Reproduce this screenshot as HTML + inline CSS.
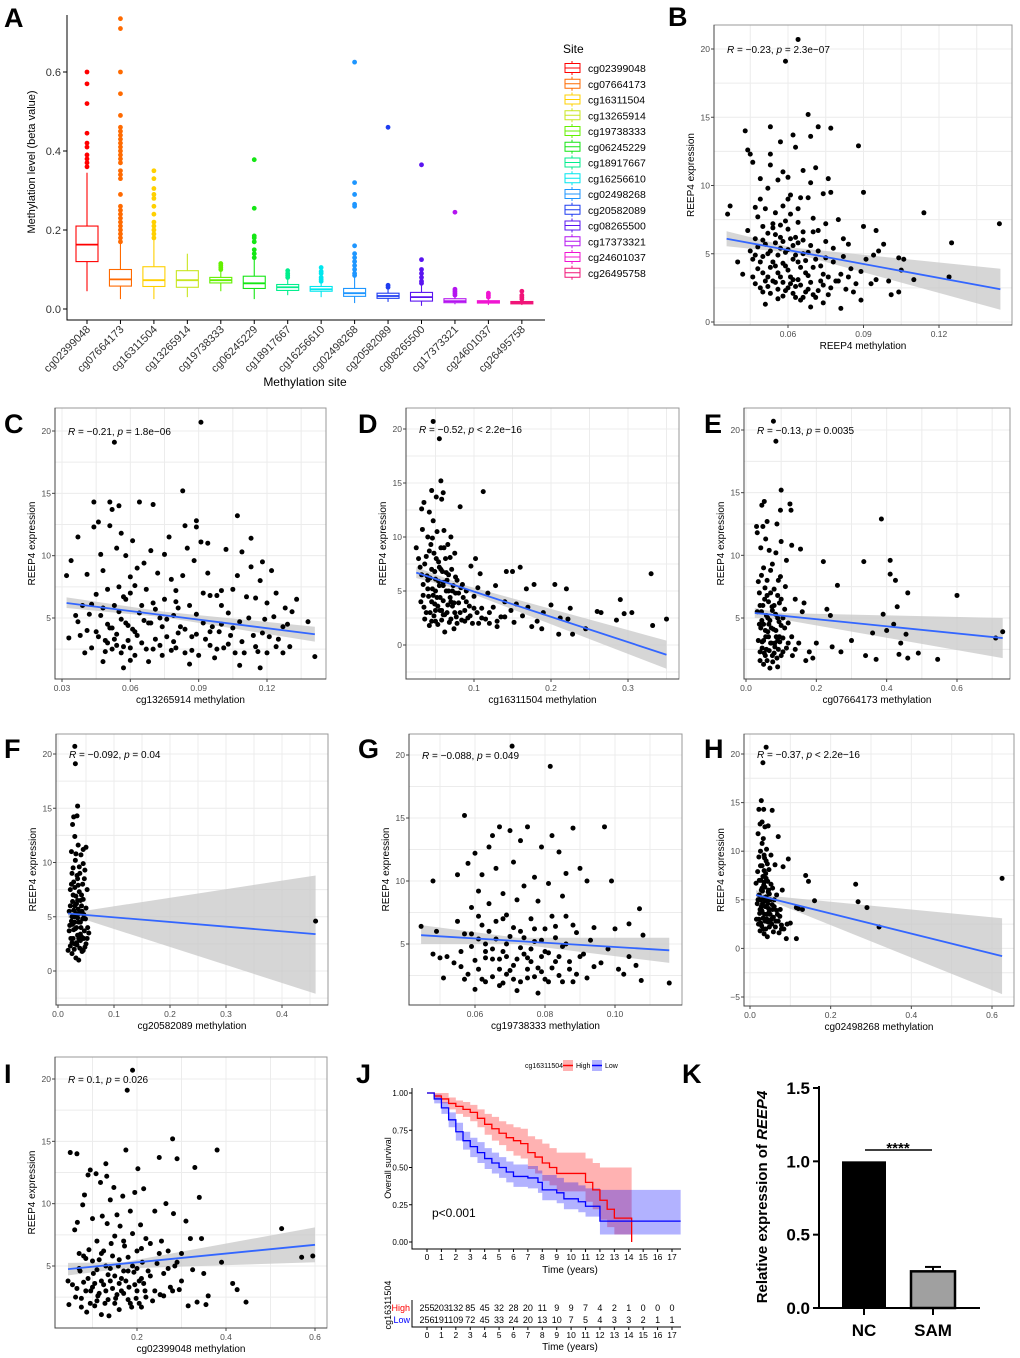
<!DOCTYPE html>
<html><head><meta charset="utf-8"><title>REEP4 methylation figure</title>
<style>
html,body{margin:0;padding:0;background:#fff;}
svg{display:block;font-family:"Liberation Sans",Arial,sans-serif;}
</style></head>
<body>
<svg id="fig" width="1020" height="1358" viewBox="0 0 1020 1358" xmlns="http://www.w3.org/2000/svg"></svg>
<script>
// ===== Panel A data =====
const siteNames=["cg02399048","cg07664173","cg16311504","cg13265914","cg19738333","cg06245229","cg18917667","cg16256610","cg02498268","cg20582089","cg08265500","cg17373321","cg24601037","cg26495758"];
const siteColors=["#FF0000","#FF6A00","#FFD000","#C8E620","#64F000","#14E614","#00EE8C","#00E6EE","#1E96FF","#1E3CF0","#5A14F0","#B414F0","#F014D2","#F01478"];
const boxMedian=[0.163,0.075,0.073,0.073,0.073,0.065,0.055,0.050,0.040,0.033,0.030,0.020,0.018,0.016];
const boxQ1=[0.120,0.058,0.057,0.055,0.066,0.052,0.047,0.045,0.032,0.027,0.020,0.016,0.015,0.013];
const boxQ3=[0.210,0.100,0.107,0.097,0.080,0.083,0.062,0.057,0.052,0.040,0.042,0.026,0.021,0.019];
const whiskLo=[0.045,0.025,0.025,0.030,0.045,0.025,0.035,0.030,0.015,0.018,0.008,0.012,0.010,0.010];
const whiskHi=[0.345,0.165,0.180,0.140,0.098,0.125,0.075,0.067,0.080,0.050,0.060,0.030,0.025,0.022];
const outliers=[
 [0.36,0.37,0.38,0.39,0.41,0.42,0.445,0.52,0.57,0.60],
 [0.17,0.18,0.19,0.20,0.21,0.22,0.23,0.24,0.25,0.26,0.29,0.33,0.34,0.35,0.37,0.38,0.39,0.40,0.41,0.42,0.43,0.44,0.45,0.46,0.49,0.545,0.60,0.71,0.735],
 [0.18,0.19,0.20,0.21,0.22,0.24,0.26,0.28,0.29,0.305,0.33,0.35],
 [],
 [0.10,0.105,0.11,0.115],
 [0.13,0.14,0.15,0.17,0.18,0.185,0.255,0.378],
 [0.08,0.085,0.09,0.097],
 [0.07,0.075,0.08,0.09,0.095,0.105],
 [0.085,0.09,0.10,0.11,0.12,0.13,0.14,0.16,0.26,0.265,0.29,0.32,0.625],
 [0.055,0.06,0.46],
 [0.065,0.07,0.08,0.09,0.10,0.125,0.365],
 [0.035,0.04,0.045,0.05,0.245],
 [0.03,0.035,0.04],
 [0.025,0.03,0.035,0.045]
];
// ===== Scatter data (x methylation, y expression), flat pairs =====
const scatB=[0.036,7.9,0.037,8.5,0.040,4.4,0.042,3.5,0.043,14.0,0.044,12.6,0.045,12.3,0.046,11.7,0.044,6.7,0.045,5.2,0.046,4.6,0.047,2.8,0.048,7.7,0.048,3.9,0.049,10.5,0.049,9.0,0.050,6.0,0.050,2.2,0.051,1.3,0.051,8.3,0.052,5.0,0.052,3.3,0.053,14.3,0.053,12.3,0.053,11.5,0.054,7.2,0.054,4.4,0.055,2.9,0.055,6.4,0.056,10.4,0.056,3.6,0.057,13.2,0.057,5.4,0.058,1.9,0.058,8.5,0.059,19.1,0.059,4.1,0.060,10.6,0.060,6.8,0.060,2.5,0.061,9.3,0.061,3.3,0.062,13.7,0.062,5.6,0.063,1.8,0.063,12.8,0.064,20.7,0.064,7.3,0.064,4.4,0.065,9.1,0.065,2.7,0.066,11.1,0.066,6.0,0.067,3.6,0.068,15.2,0.068,5.1,0.069,13.6,0.069,1.1,0.069,10.2,0.070,7.6,0.070,2.0,0.071,11.3,0.071,4.6,0.072,14.3,0.072,6.7,0.073,3.0,0.074,9.4,0.074,1.4,0.075,7.2,0.075,4.7,0.076,10.5,0.077,14.2,0.077,9.5,0.077,2.5,0.078,5.4,0.079,3.0,0.080,7.5,0.081,1.0,0.081,3.5,0.082,6.1,0.083,2.4,0.084,5.7,0.085,3.9,0.086,2.2,0.087,2.8,0.088,12.9,0.089,1.6,0.089,3.7,0.090,7.0,0.090,9.5,0.091,4.6,0.093,2.8,0.094,4.9,0.095,6.7,0.095,3.1,0.096,5.2,0.098,5.7,0.100,3.0,0.101,2.0,0.104,4.7,0.104,2.2,0.106,4.6,0.105,3.8,0.110,3.1,0.114,8.0,0.124,3.3,0.125,5.8,0.144,7.2,0.048,5.5,0.050,4.8,0.052,6.5,0.054,3.0,0.056,4.9,0.058,5.9,0.060,3.8,0.062,4.6,0.064,3.1,0.066,5.0,0.068,2.4,0.070,4.0,0.058,2.9,0.062,2.1,0.066,1.8,0.056,2.4,0.052,2.6,0.050,3.6,0.047,4.9,0.072,2.3,0.074,3.5,0.076,2.0,0.057,7.1,0.061,7.9,0.063,6.2,0.059,5.1,0.055,5.8,0.053,4.0].concat([0.046,3.3,0.047,6.1,0.049,2.5,0.049,4.4,0.051,5.7,0.051,3.0,0.053,2.1,0.053,5.2,0.054,6.9,0.055,4.1,0.056,1.7,0.057,3.3,0.057,6.2,0.058,4.3,0.059,2.3,0.059,7.4,0.060,5.3,0.061,2.8,0.061,6.1,0.062,3.1,0.063,4.9,0.063,2.6,0.064,5.8,0.065,4.0,0.065,1.6,0.066,6.6,0.067,2.2,0.067,4.5,0.068,3.4,0.069,5.6,0.069,2.9,0.070,6.6,0.071,1.8,0.072,5.2,0.073,4.1,0.074,2.7,0.075,5.9,0.076,3.3,0.078,4.4,0.080,3.0,0.082,4.8,0.084,3.3,0.050,7.0,0.055,8.0,0.060,9.0,0.052,9.8,0.058,11.0,0.064,8.3,0.068,9.1,0.047,8.4]);
const scatC=[0.032,8.4,0.033,3.4,0.034,9.6,0.036,5.2,0.037,11.5,0.037,4.7,0.038,3.6,0.039,6.0,0.040,2.2,0.041,8.5,0.042,5.3,0.043,2.6,0.044,14.3,0.044,12.3,0.045,6.9,0.045,3.9,0.046,12.7,0.047,10.1,0.047,5.2,0.048,1.5,0.048,8.8,0.049,3.2,0.050,7.3,0.050,4.5,0.051,14.3,0.051,12.4,0.052,13.7,0.052,2.5,0.053,19.1,0.053,6.0,0.054,10.6,0.054,3.7,0.055,14.0,0.055,7.5,0.056,11.8,0.056,4.9,0.057,1.0,0.057,2.7,0.058,10.0,0.058,6.5,0.059,3.2,0.060,8.3,0.061,11.2,0.061,4.1,0.062,7.6,0.062,2.0,0.063,9.0,0.064,14.3,0.064,5.4,0.065,3.0,0.066,9.4,0.067,7.3,0.068,1.5,0.069,10.4,0.069,4.6,0.070,14.1,0.070,6.2,0.071,3.3,0.072,8.6,0.073,5.0,0.074,2.0,0.075,10.1,0.075,6.5,0.076,3.5,0.077,11.5,0.078,8.1,0.078,2.4,0.079,5.2,0.080,7.2,0.081,3.8,0.082,4.3,0.083,15.2,0.083,8.4,0.084,12.4,0.084,2.2,0.085,10.6,0.086,6.0,0.086,1.3,0.087,3.5,0.088,9.6,0.089,12.8,0.089,12.3,0.089,5.3,0.090,2.0,0.091,20.7,0.091,11.1,0.092,7.0,0.093,3.3,0.094,8.6,0.094,11.0,0.095,6.8,0.095,2.8,0.096,4.3,0.097,1.8,0.098,6.8,0.099,3.9,0.100,7.2,0.101,2.6,0.102,10.5,0.103,5.4,0.104,3.6,0.105,7.3,0.106,2.2,0.107,13.2,0.107,8.4,0.108,1.2,0.108,4.7,0.109,10.3,0.110,2.2,0.111,6.7,0.113,11.4,0.113,9.1,0.114,3.6,0.115,6.6,0.116,2.3,0.117,8.0,0.117,1.0,0.118,9.5,0.119,4.9,0.120,2.2,0.121,3.5,0.122,8.8,0.123,5.1,0.124,7.0,0.125,3.3,0.127,2.2,0.128,5.8,0.129,4.5,0.130,2.7,0.131,5.5,0.133,6.5,0.138,4.7,0.141,1.9,0.050,3.0,0.052,4.2,0.054,2.8,0.058,4.6,0.060,2.6,0.062,3.9,0.066,4.8,0.070,2.5,0.074,4.3,0.080,2.6].concat([0.041,4.0,0.043,6.1,0.046,3.5,0.048,5.8,0.049,2.3,0.051,4.2,0.053,3.3,0.055,5.5,0.056,2.2,0.057,6.7,0.059,4.4,0.060,1.6,0.063,3.6,0.065,6.0,0.067,2.5,0.068,4.6,0.071,5.7,0.073,2.8,0.076,4.9,0.079,3.1,0.081,5.8,0.084,4.1,0.087,2.4,0.089,3.7,0.092,4.6,0.095,3.9,0.098,2.5,0.100,4.5,0.103,2.9,0.105,4.2,0.109,3.1,0.112,5.0,0.115,2.7,0.118,3.8,0.120,6.2,0.124,2.7,0.127,4.3,0.060,7.0,0.080,6.3,0.100,6.0]);
const scatD=[0.025,9.0,0.028,8.0,0.030,7.2,0.031,4.0,0.032,12.6,0.033,10.7,0.034,5.6,0.035,13.2,0.035,3.5,0.036,2.4,0.038,8.2,0.039,6.4,0.040,10.0,0.041,4.5,0.042,12.3,0.042,1.8,0.043,3.0,0.044,9.3,0.045,14.3,0.045,7.0,0.046,5.2,0.047,20.7,0.047,11.5,0.048,8.5,0.048,2.7,0.049,3.8,0.050,6.1,0.051,13.7,0.052,10.5,0.052,4.4,0.053,1.9,0.054,7.7,0.055,19.1,0.055,5.5,0.056,3.2,0.057,15.2,0.057,9.0,0.058,13.5,0.058,2.3,0.059,6.8,0.060,14.1,0.060,4.1,0.061,10.6,0.062,1.2,0.063,8.0,0.064,5.0,0.065,3.0,0.066,9.3,0.067,6.5,0.068,2.1,0.069,4.4,0.070,10.0,0.071,7.0,0.072,3.6,0.073,5.5,0.074,1.5,0.075,8.5,0.076,4.8,0.077,2.6,0.078,6.0,0.080,3.9,0.082,12.8,0.083,5.3,0.084,2.3,0.086,4.4,0.088,3.2,0.090,5.0,0.092,2.5,0.094,3.6,0.096,7.3,0.098,2.0,0.100,4.5,0.102,8.0,0.104,3.0,0.106,2.0,0.108,6.6,0.110,3.4,0.112,14.2,0.115,2.4,0.118,4.8,0.120,2.0,0.125,3.5,0.128,5.5,0.130,1.7,0.135,2.6,0.140,4.0,0.142,6.8,0.148,3.2,0.150,6.8,0.152,2.1,0.155,3.8,0.160,7.2,0.163,2.7,0.168,5.2,0.170,3.5,0.175,1.7,0.178,5.6,0.182,2.2,0.188,1.5,0.190,3.0,0.200,3.7,0.205,5.6,0.210,1.0,0.212,2.5,0.220,5.2,0.222,2.4,0.225,3.4,0.228,1.0,0.245,1.5,0.260,3.1,0.265,3.0,0.285,2.3,0.290,4.2,0.295,2.9,0.305,3.0,0.330,6.6,0.332,1.8,0.350,2.4,0.040,6.0,0.045,4.0,0.050,3.2,0.055,7.2,0.060,2.8,0.065,6.0,0.070,4.0,0.075,3.0,0.050,5.0,0.060,5.8].concat([0.032,6.5,0.034,4.6,0.036,7.5,0.038,3.0,0.040,5.2,0.042,8.7,0.043,6.2,0.045,2.2,0.046,9.9,0.047,4.6,0.049,6.8,0.050,2.2,0.051,8.0,0.053,3.6,0.054,5.9,0.056,4.4,0.057,7.0,0.058,3.2,0.060,5.5,0.061,9.0,0.062,2.8,0.064,6.7,0.066,3.7,0.067,5.0,0.069,8.1,0.070,2.4,0.072,5.0,0.074,3.9,0.076,6.3,0.078,2.0,0.080,4.8,0.082,3.0,0.085,5.6,0.088,2.2,0.090,4.0,0.095,2.7,0.100,3.4,0.105,5.3,0.110,2.5,0.120,3.0,0.130,2.2,0.140,2.6]);
const scatE=[0.030,12.3,0.032,11.8,0.035,7.9,0.038,4.5,0.040,2.3,0.042,10.6,0.044,5.5,0.045,14.0,0.046,3.1,0.048,12.3,0.050,9.0,0.050,1.3,0.052,14.3,0.053,6.5,0.055,4.0,0.056,11.3,0.058,2.5,0.060,12.7,0.060,8.0,0.062,5.0,0.064,3.5,0.066,10.4,0.068,1.0,0.070,7.0,0.072,4.2,0.075,9.3,0.075,2.0,0.078,20.7,0.080,6.0,0.082,3.0,0.085,19.1,0.085,10.2,0.088,12.5,0.090,1.1,0.090,5.0,0.092,8.0,0.095,3.5,0.098,13.6,0.100,15.2,0.100,11.1,0.100,6.5,0.105,2.3,0.110,4.2,0.112,7.5,0.115,9.6,0.120,3.0,0.125,14.1,0.128,13.6,0.130,10.8,0.132,2.0,0.140,6.5,0.150,3.0,0.155,10.5,0.160,5.5,0.165,6.2,0.170,1.6,0.180,2.3,0.190,1.8,0.200,3.0,0.220,9.5,0.230,5.7,0.240,5.2,0.245,2.7,0.260,7.6,0.270,2.3,0.300,3.2,0.335,9.5,0.340,2.0,0.360,3.8,0.370,1.7,0.385,12.9,0.390,5.3,0.400,4.0,0.410,9.6,0.410,8.5,0.420,4.5,0.425,8.0,0.430,5.9,0.435,2.1,0.440,3.0,0.455,3.7,0.460,7.0,0.460,1.8,0.490,2.2,0.545,1.7,0.600,6.8,0.710,3.4,0.730,3.9,0.040,6.0,0.045,4.8,0.050,3.2,0.055,2.0,0.060,6.8,0.065,4.5,0.070,3.0,0.075,5.6,0.080,2.2,0.085,4.0,0.090,3.2,0.095,6.2,0.100,4.4,0.105,5.0].concat([0.032,5.5,0.035,3.2,0.038,7.0,0.040,1.6,0.042,4.2,0.044,8.4,0.046,2.6,0.048,6.0,0.050,4.5,0.052,2.2,0.054,7.4,0.056,3.5,0.058,5.2,0.060,1.6,0.062,3.9,0.064,6.3,0.066,2.4,0.068,4.8,0.070,8.8,0.072,3.0,0.074,5.9,0.076,1.5,0.078,4.1,0.080,7.3,0.082,2.7,0.084,5.3,0.086,3.5,0.088,1.8,0.090,6.8,0.092,2.5,0.094,4.7,0.096,3.1,0.098,8.3,0.100,2.0,0.105,3.4,0.110,5.7,0.115,2.6,0.120,4.6,0.130,3.5,0.140,2.5]);
const scatF=[0.018,1.9,0.020,5.5,0.020,3.7,0.022,7.5,0.022,2.3,0.024,11.0,0.024,4.6,0.025,9.0,0.025,1.6,0.026,13.5,0.026,6.4,0.027,3.0,0.028,14.2,0.028,8.2,0.029,5.0,0.030,20.7,0.030,12.4,0.030,2.5,0.031,19.1,0.031,10.2,0.032,6.9,0.032,1.2,0.033,4.0,0.034,14.3,0.034,8.8,0.035,15.2,0.035,3.3,0.036,11.6,0.036,5.7,0.037,1.0,0.038,9.6,0.038,7.3,0.039,2.1,0.040,4.5,0.041,10.7,0.042,6.0,0.043,3.1,0.044,8.0,0.045,11.2,0.045,1.9,0.046,5.2,0.047,3.7,0.048,9.3,0.049,4.8,0.050,11.4,0.050,2.5,0.052,7.5,0.053,4.0,0.055,3.5,0.460,4.6,0.025,5.0,0.028,3.8,0.030,6.0,0.033,2.6,0.035,8.5,0.037,4.5,0.040,6.5,0.027,7.0,0.032,5.3,0.043,5.5].concat([0.021,4.2,0.022,6.0,0.023,3.0,0.024,8.0,0.025,2.6,0.026,4.3,0.027,9.5,0.028,5.6,0.029,2.0,0.030,7.7,0.031,3.9,0.032,10.8,0.033,6.2,0.034,2.4,0.035,4.9,0.036,7.9,0.037,3.0,0.038,5.3,0.039,9.0,0.040,2.8,0.041,4.0,0.042,7.0,0.043,1.8,0.044,4.8,0.045,6.6,0.046,3.0,0.047,8.5,0.048,2.2,0.050,5.8,0.052,3.0,0.030,4.5,0.035,6.5,0.040,3.4,0.045,9.9]);
const scatG=[0.0446,6.4,0.048,10.0,0.048,4.2,0.049,6.0,0.050,3.9,0.051,2.3,0.052,4.0,0.054,3.5,0.055,10.5,0.055,6.8,0.056,3.2,0.057,15.2,0.057,5.8,0.057,2.2,0.058,11.4,0.059,7.9,0.059,4.8,0.060,12.2,0.060,1.4,0.061,9.2,0.061,3.0,0.062,6.5,0.062,10.5,0.063,2.0,0.063,5.0,0.064,12.7,0.064,8.2,0.065,13.6,0.065,3.8,0.066,11.0,0.066,6.8,0.067,1.7,0.067,14.3,0.068,9.0,0.068,4.4,0.069,7.3,0.069,2.6,0.070,14.0,0.070,5.6,0.0706,20.7,0.071,11.5,0.071,3.3,0.072,8.5,0.072,1.3,0.073,6.0,0.073,13.2,0.074,4.2,0.074,9.6,0.075,2.3,0.075,14.3,0.076,7.0,0.076,3.6,0.077,10.3,0.077,5.2,0.078,1.1,0.078,8.4,0.079,12.7,0.0815,19.1,0.079,2.8,0.080,6.2,0.080,4.4,0.081,9.8,0.081,2.0,0.082,13.6,0.082,7.2,0.083,3.6,0.083,5.5,0.084,12.3,0.084,2.5,0.085,8.8,0.085,4.8,0.086,10.6,0.086,7.2,0.087,3.0,0.088,2.0,0.088,14.2,0.089,5.9,0.090,11.0,0.090,4.0,0.092,10.0,0.092,2.3,0.094,6.3,0.094,3.2,0.097,14.3,0.099,10.0,0.100,6.2,0.104,6.6,0.1025,2.6,0.107,7.8,0.108,5.7,0.106,3.3,0.1075,2.1,0.1155,1.9,0.065,4.6,0.067,3.0,0.069,5.0,0.071,2.2,0.073,4.7,0.075,3.9,0.077,2.4,0.079,4.0,0.063,3.9,0.061,5.4].concat([0.056,4.4,0.058,2.6,0.059,5.8,0.060,3.7,0.061,7.2,0.062,2.2,0.063,4.4,0.064,6.0,0.065,2.4,0.066,5.4,0.067,3.8,0.068,7.0,0.068,1.9,0.069,4.0,0.070,2.9,0.071,6.3,0.072,3.8,0.073,2.0,0.074,5.5,0.075,3.0,0.076,4.6,0.077,6.2,0.078,3.1,0.079,5.3,0.080,2.2,0.081,4.3,0.082,3.1,0.083,6.4,0.084,4.0,0.085,2.0,0.086,5.0,0.087,3.6,0.088,6.5,0.089,2.6,0.091,4.2,0.093,5.3,0.096,3.5,0.098,4.6,0.101,3.0,0.104,4.0]);
const scatH=[0.015,6.7,0.016,3.0,0.018,4.6,0.019,7.9,0.020,11.8,0.021,2.5,0.022,14.3,0.022,9.4,0.023,5.5,0.024,3.6,0.025,12.8,0.025,1.8,0.026,10.0,0.027,7.0,0.028,15.2,0.028,4.3,0.029,2.3,0.030,13.0,0.030,8.5,0.031,5.9,0.032,19.1,0.032,3.1,0.033,11.3,0.034,14.3,0.034,6.5,0.035,1.5,0.036,9.3,0.036,4.9,0.037,12.5,0.038,2.8,0.039,7.7,0.040,20.7,0.040,5.3,0.041,10.2,0.042,3.5,0.043,1.2,0.044,6.9,0.045,12.6,0.046,4.1,0.047,8.1,0.048,2.2,0.050,5.0,0.052,9.6,0.053,3.0,0.055,14.2,0.056,6.2,0.058,1.7,0.060,4.3,0.062,8.6,0.064,2.8,0.066,5.5,0.068,3.5,0.070,11.5,0.072,1.6,0.075,4.0,0.078,2.4,0.080,6.0,0.082,8.4,0.084,2.0,0.090,1.0,0.092,2.5,0.095,9.2,0.100,2.6,0.115,1.0,0.115,4.2,0.120,4.1,0.130,4.0,0.138,7.5,0.145,6.9,0.160,4.9,0.262,6.6,0.268,4.8,0.290,4.2,0.320,2.2,0.625,7.2,0.025,5.0,0.030,3.8,0.035,6.8,0.040,3.0,0.045,5.8,0.050,2.8,0.055,4.5,0.035,8.0,0.040,9.0,0.030,6.2].concat([0.020,5.0,0.022,3.0,0.023,7.0,0.025,4.0,0.026,8.5,0.027,2.6,0.028,6.0,0.029,3.9,0.030,10.8,0.031,4.6,0.032,7.4,0.033,2.0,0.034,5.2,0.035,9.6,0.036,3.5,0.037,6.3,0.038,4.3,0.039,2.0,0.040,7.2,0.041,5.0,0.042,3.0,0.043,8.7,0.044,4.6,0.045,2.7,0.046,6.0,0.047,3.7,0.048,5.6,0.050,3.5,0.052,6.6,0.054,2.5,0.056,4.0,0.058,3.2,0.060,5.0,0.063,2.2,0.066,3.9,0.070,2.8,0.074,3.3,0.078,2.0]);
const scatI=[0.045,3.8,0.047,1.9,0.050,14.1,0.055,3.5,0.060,7.9,0.062,2.5,0.065,14.0,0.066,8.5,0.070,6.0,0.072,4.6,0.075,1.7,0.078,9.9,0.080,3.7,0.082,10.7,0.085,5.6,0.087,1.3,0.090,12.3,0.092,6.3,0.095,12.7,0.096,3.0,0.100,8.8,0.102,4.4,0.105,1.8,0.108,12.4,0.110,7.0,0.112,2.6,0.115,5.5,0.118,11.7,0.120,1.1,0.120,3.8,0.122,9.0,0.125,6.2,0.128,2.0,0.130,13.2,0.132,12.2,0.133,8.4,0.135,4.3,0.137,1.0,0.140,10.3,0.142,6.8,0.145,3.2,0.148,11.3,0.150,7.4,0.152,2.4,0.155,9.1,0.158,5.0,0.160,1.5,0.162,8.2,0.165,4.0,0.168,10.6,0.170,2.8,0.172,6.6,0.175,14.3,0.178,19.1,0.180,5.7,0.182,3.3,0.185,9.4,0.188,1.7,0.190,20.7,0.190,7.6,0.193,4.5,0.195,10.9,0.198,2.4,0.200,6.2,0.202,12.8,0.205,3.8,0.208,8.3,0.210,1.7,0.212,5.3,0.215,11.2,0.218,3.0,0.220,7.2,0.225,4.6,0.230,6.8,0.235,2.2,0.240,9.4,0.245,5.2,0.250,13.7,0.252,2.7,0.255,7.0,0.260,4.4,0.265,10.0,0.270,6.2,0.275,3.3,0.280,15.2,0.282,9.2,0.285,5.0,0.290,13.6,0.295,3.1,0.300,6.0,0.310,8.6,0.315,1.8,0.320,7.2,0.325,4.7,0.330,12.9,0.335,2.1,0.340,10.5,0.345,7.2,0.350,4.4,0.355,1.9,0.360,2.6,0.380,14.3,0.390,5.3,0.415,3.6,0.425,3.1,0.445,2.1,0.525,8.0,0.570,5.7,0.595,5.8,0.100,3.3,0.110,2.2,0.130,3.0,0.140,4.8,0.150,2.0,0.160,3.6,0.170,4.6,0.180,2.3,0.200,3.0,0.210,4.0].concat([0.065,3.2,0.070,4.8,0.075,2.4,0.080,5.8,0.085,3.0,0.090,4.0,0.095,2.0,0.100,5.4,0.105,3.6,0.110,4.7,0.115,2.8,0.120,6.0,0.125,3.5,0.130,5.0,0.135,2.3,0.140,3.8,0.145,5.8,0.150,4.2,0.155,2.7,0.160,5.5,0.165,3.0,0.170,7.0,0.175,3.8,0.180,4.6,0.185,2.0,0.190,5.0,0.195,3.5,0.200,4.8,0.205,2.0,0.210,6.4,0.215,3.6,0.220,2.5,0.230,4.2,0.240,3.0,0.250,6.0,0.260,2.6,0.270,4.8,0.280,3.0,0.290,5.3,0.300,3.8]);
// regression fits: [xStart, yStart, xEnd, yEnd]; CI bands: [loStart, hiStart, xMid, loMid, hiMid, loEnd, hiEnd]
const fitB=[0.0356,6.1,0.1444,2.4]; const ciB=[5.55,6.65,0.062,5.05,5.45,0.9,3.9];
const fitC=[0.032,6.2,0.141,3.7]; const ciC=[5.8,6.65,0.075,5.05,5.5,3.1,4.3];
const fitD=[0.025,6.7,0.350,-0.9]; const ciD=[6.2,7.2,0.09,4.95,5.5,-2.2,0.4];
const fitE=[0.025,5.4,0.730,3.4]; const ciE=[5.0,5.8,0.1,4.9,5.4,1.8,5.0];
const fitF=[0.018,5.3,0.460,3.4]; const ciF=[4.9,5.6,0.035,4.95,5.45,-2.1,8.8];
const fitG=[0.0446,5.7,0.1155,4.5]; const ciG=[5.0,6.5,0.072,5.0,5.5,3.5,5.5];
const fitH=[0.015,5.5,0.625,-0.8]; const ciH=[5.0,6.0,0.05,4.9,5.4,-4.7,3.1];
const fitI=[0.045,4.75,0.600,6.7]; const ciI=[4.25,5.25,0.17,4.8,5.3,5.3,8.1];
// ===== Panel J (KM) data =====
const kmTimesHigh=[0,0.5,1,1.5,2,2.5,3,3.5,4,4.5,5,5.5,6,6.5,7,7.5,8,8.5,9,10,11,11.5,12,12.5,13,14.2];
const kmSurvHigh=[1.0,0.98,0.96,0.93,0.91,0.89,0.87,0.83,0.79,0.76,0.73,0.70,0.68,0.66,0.60,0.57,0.53,0.50,0.46,0.46,0.40,0.35,0.28,0.22,0.16,0.0];
const kmHiHigh=[1,1,1,0.97,0.95,0.94,0.92,0.89,0.86,0.84,0.81,0.79,0.77,0.76,0.71,0.69,0.66,0.63,0.60,0.60,0.56,0.53,0.50,0.50,0.50,0.50];
const kmLoHigh=[1,0.96,0.93,0.89,0.86,0.84,0.81,0.77,0.72,0.68,0.65,0.61,0.58,0.56,0.49,0.46,0.41,0.38,0.34,0.34,0.27,0.22,0.15,0.10,0.05,0.05];
const kmTimesLow=[0,0.5,1,1.5,2,2.5,3,3.5,4,4.5,5,5.5,6,7,7.7,8,9,9.5,10.5,11,12,17.6];
const kmSurvLow=[1.0,0.96,0.90,0.82,0.74,0.68,0.64,0.60,0.56,0.53,0.50,0.47,0.44,0.43,0.40,0.35,0.33,0.29,0.27,0.24,0.14,0.14];
const kmHiLow=[1,0.99,0.94,0.87,0.80,0.74,0.70,0.67,0.63,0.60,0.57,0.54,0.52,0.51,0.48,0.45,0.43,0.40,0.38,0.36,0.35,0.35];
const kmLoLow=[1,0.93,0.86,0.77,0.68,0.62,0.57,0.53,0.49,0.46,0.43,0.40,0.37,0.36,0.33,0.28,0.26,0.22,0.20,0.17,0.05,0.05];
const riskHigh=[255,203,132,85,45,32,28,20,11,9,9,7,4,2,1,0,0,0];
const riskLow=[256,191,109,72,45,33,24,20,13,10,7,5,4,3,3,2,1,1];
const kmTicks=[0,1,2,3,4,5,6,7,8,9,10,11,12,13,14,15,16,17];
const kmYTicks=[0,0.25,0.5,0.75,1.0];
const kmYLabels=["0.00","0.25","0.50","0.75","1.00"];
// ===== Panel K data =====
const barCats=["NC","SAM"];
const barValues=[1.0,0.25];
const barErr=[0,0.03];
const barTicks=[0,0.5,1.0,1.5];
const barTickLabels=["0.0","0.5","1.0","1.5"];

// ===== helpers =====
const NS='http://www.w3.org/2000/svg';
const svg=document.getElementById('fig');
function mk(tag,attrs,parent){const e=document.createElementNS(NS,tag);for(const k in attrs)e.setAttribute(k,attrs[k]);(parent||svg).appendChild(e);return e;}
function label(el,name){
 
 
 return el;}
function lin(d0,d1,r0,r1){return v=>r0+(v-d0)*(r1-r0)/(d1-d0);}
function txt(x,y,s,attrs,parent){const t=mk('text',Object.assign({x:x,y:y},attrs||{}),parent);t.textContent=s;return t;}

// panel letters
const letters=[["A",4,27],["B",668,26],["C",4,433],["D",358,433],["E",704,433],["F",4,758],["G",358,758],["H",704,758],["I",4,1083],["J",356,1083],["K",682,1083]];
letters.forEach(l=>{const t=txt(l[1],l[2],l[0],{'font-size':27,'font-weight':'bold',fill:'#000'});
 
 });

// ===== Panel A =====
(function(){
 const g=mk('g',{}); label(g,'panel-a-boxplot');
 const yA=lin(0,0.6,309,72);
 const xA=i=>87+i*33.45;
 const ax=mk('path',{d:'M67,15 V320 H545',fill:'none',stroke:'#000','stroke-width':1},g); label(ax,'panel-a-axes');
 [0,0.2,0.4,0.6].forEach(v=>{
  mk('line',{x1:63,x2:67,y1:yA(v),y2:yA(v),stroke:'#000'},g);
  const t=txt(61,yA(v)+4,v.toFixed(1),{'text-anchor':'end','font-size':11,fill:'#333'},g);
  
  
 });
 const yt=txt(0,0,'Methylation level (beta value)',{'font-size':11,fill:'#000','text-anchor':'middle',transform:'translate(35,162) rotate(-90)'},g);
 
 
 const xt=txt(305,386,'Methylation site',{'font-size':12,fill:'#000','text-anchor':'middle'},g);
 
 
 siteNames.forEach((n,i)=>{
  const x=xA(i),c=siteColors[i];
  mk('line',{x1:x,x2:x,y1:320,y2:324,stroke:'#000'},g);
  const lt=txt(0,0,n,{'font-size':11,fill:'#333','text-anchor':'end',transform:'translate('+(x+4)+',330) rotate(-45)'},g);
  
  
  const bg=mk('g',{},g);
  
  
  mk('line',{x1:x,x2:x,y1:yA(whiskLo[i]),y2:yA(boxQ1[i]),stroke:c,'stroke-width':1.1},bg);
  mk('line',{x1:x,x2:x,y1:yA(boxQ3[i]),y2:yA(whiskHi[i]),stroke:c,'stroke-width':1.1},bg);
  mk('rect',{x:x-11,y:yA(boxQ3[i]),width:22,height:Math.max(1,yA(boxQ1[i])-yA(boxQ3[i])),fill:'#fff',stroke:c,'stroke-width':1.1},bg);
  mk('line',{x1:x-11,x2:x+11,y1:yA(boxMedian[i]),y2:yA(boxMedian[i]),stroke:c,'stroke-width':1.8},bg);
  outliers[i].forEach(v=>{const o=mk('circle',{cx:x,cy:yA(v),r:2.4,fill:c},bg);
   
   });
 });
 const lg=mk('g',{},g);
 
 
 txt(563,53,'Site',{'font-size':12,fill:'#000'},lg);
 siteNames.forEach((n,i)=>{
  const y=68+i*15.75,c=siteColors[i];
  const e=mk('g',{},lg);
  
  
  mk('line',{x1:572,x2:572,y1:y-7,y2:y+7,stroke:c,'stroke-width':1},e);
  mk('rect',{x:565,y:y-4.5,width:15,height:9,fill:'#fff',stroke:c,'stroke-width':1},e);
  mk('line',{x1:565,x2:580,y1:y,y2:y,stroke:c,'stroke-width':1},e);
  txt(588,y+4,n,{'font-size':10.5,fill:'#000'},e);
 });
})();

// ===== scatter panels =====
function scatter(cfg){
 const g=mk('g',{}); label(g,cfg.name);
 const [L,T,R,B]=cfg.frame;
 const xs=lin(cfg.xa[0],cfg.xa[2],cfg.xa[1],cfg.xa[3]);
 const ys=lin(cfg.ya[0],cfg.ya[2],cfg.ya[1],cfg.ya[3]);
 mk('rect',{x:L,y:T,width:R-L,height:B-T,fill:'#fff'},g);
 const cp='clip-'+cfg.name; const cpe=mk('clipPath',{id:cp},g); mk('rect',{x:L,y:T,width:R-L,height:B-T},cpe);
 const xt=cfg.xticks, yt=cfg.yticks;
 const dx=xt[1]-xt[0], dy=yt[1]-yt[0];
 for(let v=xt[0]-dx;v<=xt[xt.length-1]+dx*1.01;v+=dx/2){const px=xs(v);if(px>L&&px<R)mk('line',{x1:px,x2:px,y1:T,y2:B,stroke:'#ececec','stroke-width':1},g);}
 for(let v=yt[0]-dy;v<=yt[yt.length-1]+dy*1.01;v+=dy/2){const py=ys(v);if(py>T&&py<B)mk('line',{x1:L,x2:R,y1:py,y2:py,stroke:'#ececec','stroke-width':1},g);}
 const f=cfg.fit,ci=cfg.ci;
 const band=mk('polygon',{points:[[f[0],ci[1]],[ci[2],ci[4]],[f[2],ci[6]],[f[2],ci[5]],[ci[2],ci[3]],[f[0],ci[0]]].map(p=>xs(p[0])+','+ys(p[1])).join(' '),fill:'#c8c8c8','fill-opacity':0.75,'clip-path':'url(#'+cp+')'},g);
 
 
 const pg=mk('g',{'clip-path':'url(#'+cp+')'},g);
 
 
 for(let i=0;i<cfg.pts.length;i+=2){
  const c=mk('circle',{cx:xs(cfg.pts[i]),cy:ys(cfg.pts[i+1]),r:2.5,fill:'#000'},pg);
  
  
 }
 const ln=mk('line',{x1:xs(f[0]),y1:ys(f[1]),x2:xs(f[2]),y2:ys(f[3]),stroke:'#3366FF','stroke-width':1.8,'clip-path':'url(#'+cp+')'},g);
 
 
 mk('rect',{x:L,y:T,width:R-L,height:B-T,fill:'none',stroke:'#999','stroke-width':1},g);
 mk('path',{d:'M'+L+','+T+' V'+B+' H'+R,fill:'none',stroke:'#444','stroke-width':1},g);
 xt.forEach((v,i)=>{const px=xs(v);mk('line',{x1:px,x2:px,y1:B,y2:B+3,stroke:'#444'},g);
  const t=txt(px,B+12,cfg.xlabels?cfg.xlabels[i]:String(v),{'font-size':8.5,fill:'#4d4d4d','text-anchor':'middle'},g);
  
  });
 yt.forEach(v=>{const py=ys(v);mk('line',{x1:L-3,x2:L,y1:py,y2:py,stroke:'#444'},g);
  const t=txt(L-4,py+3,v<0?'\u22125':String(v),{'font-size':8.5,fill:'#4d4d4d','text-anchor':'end'},g);
  
  });
 const xT=txt((L+R)/2,B+24,cfg.xtitle,{'font-size':10,fill:'#000','text-anchor':'middle'},g);
 
 
 const yT=txt(0,0,'REEP4 expression',{'font-size':10,fill:'#000','text-anchor':'middle',transform:'translate('+(L-20)+','+((T+B)/2)+') rotate(-90)'},g);
 
 
 const st=mk('text',{x:L+13,y:ys(20)+4,'font-size':10,fill:'#000'},g);
 
 
 st.innerHTML='<tspan font-style="italic">R</tspan> = '+cfg.r+', <tspan font-style="italic">p</tspan> '+cfg.p;
}
scatter({name:'panel-b-scatter',frame:[714,25,1012,325],xa:[0.06,788,0.12,939],ya:[0,322,20,49],xticks:[0.06,0.09,0.12],yticks:[0,5,10,15,20],pts:scatB,fit:fitB,ci:ciB,xtitle:'REEP4 methylation',r:'\u22120.23',p:'= 2.3e\u221207'});
scatter({name:'panel-c-scatter',frame:[55,408,326,679],xa:[0.03,62,0.12,267],ya:[5,618,20,431],xticks:[0.03,0.06,0.09,0.12],yticks:[5,10,15,20],pts:scatC,fit:fitC,ci:ciC,xtitle:'cg13265914 methylation',r:'\u22120.21',p:'= 1.8e\u221206'});
scatter({name:'panel-d-scatter',frame:[406,408,679,679],xa:[0.1,474,0.3,628],ya:[0,645,20,429],xticks:[0.1,0.2,0.3],yticks:[0,5,10,15,20],pts:scatD,fit:fitD,ci:ciD,xtitle:'cg16311504 methylation',r:'\u22120.52',p:'< 2.2e\u221216'});
scatter({name:'panel-e-scatter',frame:[744,408,1010,679],xa:[0,746,0.6,957],ya:[5,618,20,430],xticks:[0,0.2,0.4,0.6],xlabels:['0.0','0.2','0.4','0.6'],yticks:[5,10,15,20],pts:scatE,fit:fitE,ci:ciE,xtitle:'cg07664173 methylation',r:'\u22120.13',p:'= 0.0035'});
scatter({name:'panel-f-scatter',frame:[56,734,328,1005],xa:[0,58,0.4,282],ya:[0,971,20,754],xticks:[0,0.1,0.2,0.3,0.4],xlabels:['0.0','0.1','0.2','0.3','0.4'],yticks:[0,5,10,15,20],pts:scatF,fit:fitF,ci:ciF,xtitle:'cg20582089 methylation',r:'\u22120.092',p:'= 0.04'});
scatter({name:'panel-g-scatter',frame:[409,734,682,1005],xa:[0.06,475,0.10,615],ya:[5,944,20,755],xticks:[0.06,0.08,0.10],xlabels:['0.06','0.08','0.10'],yticks:[5,10,15,20],pts:scatG,fit:fitG,ci:ciG,xtitle:'cg19738333 methylation',r:'\u22120.088',p:'= 0.049'});
scatter({name:'panel-h-scatter',frame:[744,734,1014,1006],xa:[0,750,0.6,992],ya:[-5,997,20,754],xticks:[0,0.2,0.4,0.6],xlabels:['0.0','0.2','0.4','0.6'],yticks:[-5,0,5,10,15,20],pts:scatH,fit:fitH,ci:ciH,xtitle:'cg02498268 methylation',r:'\u22120.37',p:'< 2.2e\u221216'});
scatter({name:'panel-i-scatter',frame:[55,1057,327,1328],xa:[0.2,137,0.6,315],ya:[5,1266,20,1079],xticks:[0.2,0.4,0.6],yticks:[5,10,15,20],pts:scatI,fit:fitI,ci:ciI,xtitle:'cg02399048 methylation',r:'0.1',p:'= 0.026'});

// ===== Panel J =====
(function(){
 const g=mk('g',{}); label(g,'panel-j-survival');
 const xk=lin(0,17,427,672), yk=lin(0,1,1242,1093);
 const F={'font-family':'"Liberation Sans Narrow","Liberation Sans",sans-serif'};
 function stepPts(ts,vs){let p=[];for(let i=0;i<ts.length;i++){if(i>0)p.push([ts[i],vs[i-1]]);p.push([ts[i],vs[i]]);}return p;}
 function band(ts,lo,hi,color,name){
  const up=stepPts(ts,hi), dn=stepPts(ts,lo).reverse();
  const pg=mk('polygon',{points:up.concat(dn).map(p=>xk(p[0])+','+yk(p[1])).join(' '),fill:color,'fill-opacity':0.3},g);
  
  
 }
 band(kmTimesHigh,kmLoHigh,kmHiHigh,'#FF0000','high-ci-band');
 band(kmTimesLow,kmLoLow,kmHiLow,'#0000FF','low-ci-band');
 const hl=mk('polyline',{points:stepPts(kmTimesHigh,kmSurvHigh).map(p=>xk(p[0])+','+yk(p[1])).join(' '),fill:'none',stroke:'#FF0000','stroke-width':1.3},g);
 
 
 const ll=mk('polyline',{points:stepPts(kmTimesLow,kmSurvLow).map(p=>xk(p[0])+','+yk(p[1])).join(' '),fill:'none',stroke:'#0000FF','stroke-width':1.3},g);
 
 
 mk('path',{d:'M412,1088 V1249 H681',fill:'none',stroke:'#000','stroke-width':1},g);
 kmYTicks.forEach((v,i)=>{mk('line',{x1:409,x2:412,y1:yk(v),y2:yk(v),stroke:'#000'},g);
  const t=txt(408,yk(v)+3,kmYLabels[i],Object.assign({'font-size':8,'text-anchor':'end',fill:'#000'},F),g);
  
  });
 kmTicks.forEach(v=>{mk('line',{x1:xk(v),x2:xk(v),y1:1249,y2:1252,stroke:'#000'},g);
  txt(xk(v),1260,String(v),Object.assign({'font-size':8.5,'text-anchor':'middle',fill:'#000'},F),g);});
 txt(570,1273,'Time (years)',Object.assign({'font-size':10,'text-anchor':'middle',fill:'#000'},F),g);
 txt(0,0,'Overall survival',Object.assign({'font-size':9,'text-anchor':'middle',fill:'#000',transform:'translate(391,1168) rotate(-90)'},F),g);
 const pv=txt(432,1217,'p<0.001',Object.assign({'font-size':12,fill:'#000'},F),g);
 
 
 const lg=mk('g',{},g);
 
 
 txt(525,1068,'cg16311504',Object.assign({'font-size':7,fill:'#000'},F),lg);
 mk('rect',{x:563,y:1060,width:10,height:11,fill:'#FF0000','fill-opacity':0.3},lg);
 mk('line',{x1:563,x2:573,y1:1065.5,y2:1065.5,stroke:'#FF0000','stroke-width':1.5},lg);
 txt(576,1068,'High',Object.assign({'font-size':7,fill:'#000'},F),lg);
 mk('rect',{x:592,y:1060,width:10,height:11,fill:'#0000FF','fill-opacity':0.3},lg);
 mk('line',{x1:592,x2:602,y1:1065.5,y2:1065.5,stroke:'#0000FF','stroke-width':1.5},lg);
 txt(605,1068,'Low',Object.assign({'font-size':7,fill:'#000'},F),lg);
 const rt=mk('g',{},g);
 
 
 mk('path',{d:'M412,1300 V1327 H681',fill:'none',stroke:'#000','stroke-width':1},rt);
 txt(410,1311,'High',Object.assign({'font-size':9,fill:'#FF0000','text-anchor':'end'},F),rt);
 txt(410,1323,'Low',Object.assign({'font-size':9,fill:'#0000FF','text-anchor':'end'},F),rt);
 kmTicks.forEach((v,i)=>{
  txt(xk(v),1311,String(riskHigh[i]),Object.assign({'font-size':9,'text-anchor':'middle',fill:'#000'},F),rt);
  txt(xk(v),1323,String(riskLow[i]),Object.assign({'font-size':9,'text-anchor':'middle',fill:'#000'},F),rt);
  mk('line',{x1:xk(v),x2:xk(v),y1:1327,y2:1330,stroke:'#000'},rt);
  txt(xk(v),1338,String(v),Object.assign({'font-size':8.5,'text-anchor':'middle',fill:'#000'},F),rt);
 });
 txt(570,1350,'Time (years)',Object.assign({'font-size':10,'text-anchor':'middle',fill:'#000'},F),rt);
 txt(0,0,'cg16311504',Object.assign({'font-size':9,'text-anchor':'middle',fill:'#000',transform:'translate(391,1305) rotate(-90)'},F),rt);
})();

// ===== Panel K =====
(function(){
 const g=mk('g',{}); label(g,'panel-k-bar');
 const yb=lin(0,1.5,1308,1088);
 const bx=[864,933];
 mk('path',{d:'M819,1086 V1308 H980',fill:'none',stroke:'#000','stroke-width':2},g);
 barTicks.forEach((v,i)=>{mk('line',{x1:813,x2:819,y1:yb(v),y2:yb(v),stroke:'#000','stroke-width':2},g);
  const t=txt(810,yb(v)+6,barTickLabels[i],{'font-size':17,'font-weight':'bold','text-anchor':'end',fill:'#000'},g);
  
  });
 barCats.forEach((c,i)=>{
  const x=bx[i];
  const r=mk('rect',{x:x-22,y:yb(barValues[i]),width:44,height:yb(0)-yb(barValues[i]),fill:i===0?'#000':'#a0a0a0',stroke:'#000','stroke-width':i===0?0:2.5},g);
  
  
  if(barErr[i]>0){mk('line',{x1:x,x2:x,y1:yb(barValues[i]),y2:yb(barValues[i]+barErr[i]),stroke:'#000','stroke-width':2},g);
   mk('line',{x1:x-8,x2:x+8,y1:yb(barValues[i]+barErr[i]),y2:yb(barValues[i]+barErr[i]),stroke:'#000','stroke-width':2},g);}
  mk('line',{x1:x,x2:x,y1:1308,y2:1315,stroke:'#000','stroke-width':2},g);
  const t=txt(x,1336,c,{'font-size':17,'font-weight':'bold','text-anchor':'middle',fill:'#000'},g);
  
  
 });
 const sl=mk('line',{x1:865,x2:932,y1:1150,y2:1150,stroke:'#000','stroke-width':1.5},g);
 
 
 const sg=txt(898,1153,'****',{'font-size':15,'font-weight':'bold','text-anchor':'middle',fill:'#000'},g);
 
 
 const yt=mk('text',{'font-size':15,'font-weight':'bold','text-anchor':'middle',fill:'#000',transform:'translate(767,1197) rotate(-90)'},g);
 
 
 yt.innerHTML='Relative expression of <tspan font-style="italic">REEP4</tspan>';
})();
</script>
</body></html>
